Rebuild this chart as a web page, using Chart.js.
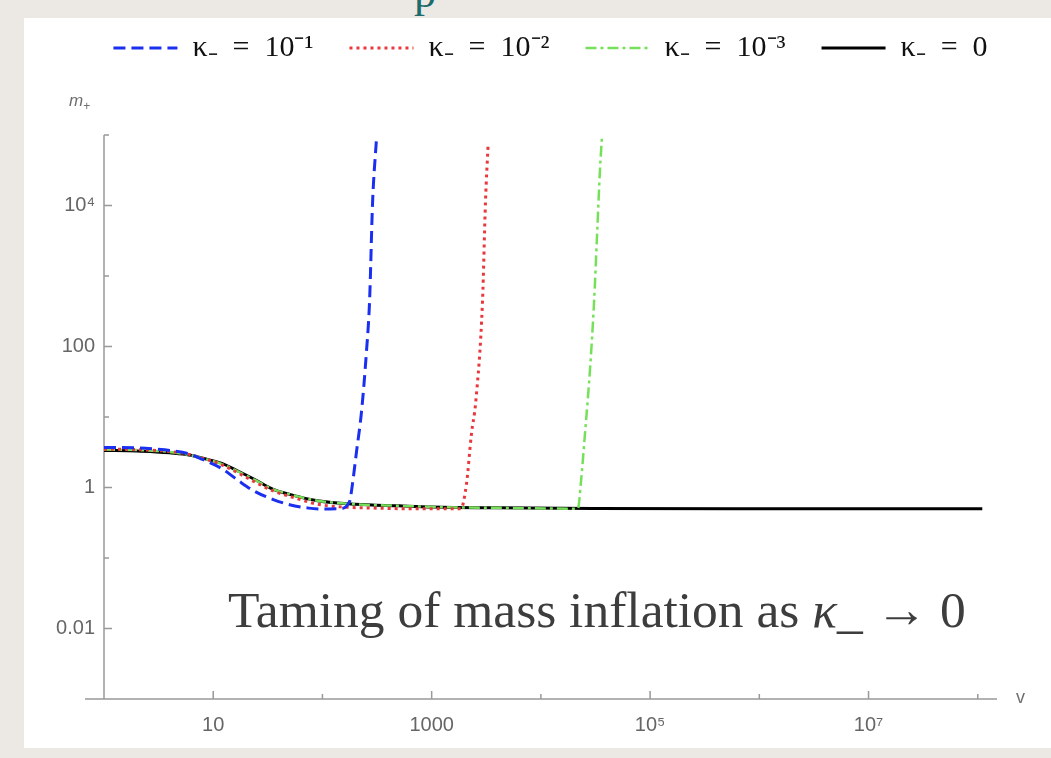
<!DOCTYPE html>
<html>
<head>
<meta charset="utf-8">
<script src="https://cdn.jsdelivr.net/npm/chart.js@4.4.0/dist/chart.umd.min.js"></script>
<style>
    html, body { margin: 0; padding: 0; }
    body {
        width: 1051px; height: 758px; position: relative; overflow: hidden;
        background: #ece9e4;
        font-family: "Liberation Sans", Arial, sans-serif;
    }
    /* bit of the slide title that peeks in above the white panel */
    #slide-title { position: absolute; left: 414px; top: -33px; font: 44px "Liberation Serif", serif; color: #1d6b6b; }
    #panel { position: absolute; left: 24px; top: 18px; width: 1027px; height: 730px; background: #fff; }
    #wrap { position: absolute; left: 0; top: 0; width: 1051px; height: 758px; }
    .axis-title { position: absolute; color: #6f6f6f; }
    #y-title { left: 69px; top: 91px; font: italic 17px "Liberation Sans", sans-serif; }
    #y-title sub { font-style: normal; font-size: 12px; }
    #x-title { left: 1016px; top: 687px; font: 18px "Liberation Sans", sans-serif; }
    #note {
        position: absolute; left: 228px; top: 580px; line-height: 1;
        font: 51.5px "Liberation Serif", serif; color: #3d3d3d; white-space: nowrap;
    }
</style>
</head>
<body>
<div id="slide-title">p</div>
<div id="panel"></div>
<div id="wrap"><canvas id="chart"></canvas></div>
<div id="y-title" class="axis-title">m<sub>+</sub></div>
<div id="x-title" class="axis-title">v</div>
<div id="note">Taming of mass inflation as <i>κ</i>_ → 0</div>

<script>
// m+ against v for each kappa_-
const vKappa1 = [1, 2, 3, 4, 6, 8, 12, 17, 24, 35, 50, 75, 100, 143, 177, 188, 205, 228, 253, 270, 288, 313];
const mKappa1 = [3.7, 3.65, 3.5, 3.35, 3.0, 2.5, 1.85, 1.25, 0.88, 0.68, 0.57, 0.51, 0.495, 0.5, 0.63, 1.1, 3.2, 12, 85, 435, 11400, 92000];

const vKappa2 = [1, 2, 3, 4, 6, 8, 12, 17, 24, 35, 50, 90, 150, 300, 600, 1845, 2080, 2310, 2535, 2920, 3110, 3290];
const mKappa2 = [3.5, 3.45, 3.35, 3.25, 2.95, 2.6, 2.1, 1.6, 1.2, 0.9, 0.75, 0.58, 0.53, 0.51, 0.5, 0.5, 1.1, 5.65, 16.6, 435, 11400, 75700];

const vKappa3 = [1, 2, 3, 4, 6, 8, 12, 17, 24, 35, 50, 90, 200, 500, 1000, 4000, 21800, 23300, 25300, 28200, 30700, 32700, 34800, 36300];
const mKappa3 = [3.45, 3.4, 3.3, 3.2, 2.9, 2.6, 2.15, 1.68, 1.28, 0.95, 0.8, 0.65, 0.58, 0.55, 0.53, 0.515, 0.5, 1.22, 5.65, 48.7, 435, 3880, 33500, 98000];

const vKappa0 = [1, 2, 3, 4, 6, 8, 12, 17, 24, 35, 50, 90, 200, 500, 1000, 4000, 30000, 1e6, 1.1e8];
const mKappa0 = [3.35, 3.3, 3.2, 3.1, 2.9, 2.6, 2.2, 1.7, 1.3, 0.95, 0.8, 0.65, 0.58, 0.55, 0.53, 0.515, 0.505, 0.5, 0.5];

const seriesLabels = ['κ₋  =  10⁻¹', 'κ₋  =  10⁻²', 'κ₋  =  10⁻³', 'κ₋  =  0'];

// one tick per decade, only every other one labelled (Mathematica style)
const xTickValues = [1, 10, 100, 1e3, 1e4, 1e5, 1e6, 1e7, 1e8];
const xTickLabels = ['', '10', '', '1000', '', '10⁵', '', '10⁷', ''];
const yTickValues = [1e-3, 1e-2, 0.1, 1, 10, 100, 1e3, 1e4, 1e5];
const yTickLabels = ['', '0.01', '', '1', '', '100', '', '10⁴', ''];

const legendGap = 62;   // extra room under the legend row
const legendShift = 30; // legend sits a bit right of centre

function zip(vs, ms) {
    return vs.map((v, i) => ({ x: v, y: ms[i] }));
}

function lineSet(label, vs, ms, color, width, dash) {
    return {
        label,
        data: zip(vs, ms),
        borderColor: color,
        backgroundColor: color,
        borderWidth: width,
        borderDash: dash,
        pointRadius: 0,
        cubicInterpolationMode: 'monotone',
        fill: false,
    };
}

// axes drawn by hand: x axis pokes out left of the y axis, ticks point inwards
const mmaAxes = {
    id: 'mmaAxes',
    afterInit(chart) {
        const legend = chart.legend;
        const baseFit = legend.fit.bind(legend);
        legend.fit = function () { baseFit(); this.height += legendGap; };
    },
    afterLayout(chart) {
        chart.legend.left += legendShift;
        chart.legend.right += legendShift;
    },
    beforeDatasetsDraw(chart) {
        const { ctx, chartArea: { left, right, top, bottom }, scales: { x, y } } = chart;
        ctx.save();
        ctx.strokeStyle = '#999';
        ctx.lineWidth = 1.5;
        ctx.beginPath();
        ctx.moveTo(left - 19, bottom);
        ctx.lineTo(right, bottom);
        ctx.moveTo(left, top);
        ctx.lineTo(left, bottom);
        x.ticks.forEach((t, i) => {
            const px = x.getPixelForValue(t.value);
            const len = xTickLabels[i] ? 8 : 5;
            ctx.moveTo(px, bottom);
            ctx.lineTo(px, bottom - len);
        });
        y.ticks.forEach((t, i) => {
            const py = y.getPixelForValue(t.value);
            const len = yTickLabels[i] ? 8 : 5;
            ctx.moveTo(left, py);
            ctx.lineTo(left + len, py);
        });
        ctx.stroke();
        ctx.restore();
    },
};

const tickFont = { family: '"Liberation Sans", Arial, sans-serif', size: 20 };

new Chart(document.getElementById('chart'), {
    type: 'line',
    data: {
        datasets: [
            lineSet(seriesLabels[0], vKappa1, mKappa1, '#1a2ff0', 3, [12, 6]),
            lineSet(seriesLabels[1], vKappa2, mKappa2, '#e8383d', 3, [3, 4]),
            lineSet(seriesLabels[2], vKappa3, mKappa3, '#76e05a', 2.5, [11, 4, 3, 4]),
            lineSet(seriesLabels[3], vKappa0, mKappa0, '#000000', 3, []),
        ],
    },
    options: {
        responsive: true,
        maintainAspectRatio: false,
        animation: false,
        parsing: false,
        events: [],
        layout: { padding: { left: 44, right: 54, top: -3, bottom: 19 } },
        scales: {
            x: {
                type: 'logarithmic',
                min: 1,
                max: 1.5e8,
                afterBuildTicks: (scale) => { scale.ticks = xTickValues.map((value) => ({ value })); },
                afterFit: (scale) => { scale.height = 40; },
                grid: { display: false, drawTicks: false },
                border: { display: false },
                ticks: {
                    autoSkip: false, maxRotation: 0, padding: 14,
                    color: '#666', font: tickFont,
                    callback: (value, i) => xTickLabels[i],
                },
            },
            y: {
                type: 'logarithmic',
                min: 1e-3,
                max: 1e5,
                afterBuildTicks: (scale) => { scale.ticks = yTickValues.map((value) => ({ value })); },
                afterFit: (scale) => { scale.width = 60; },
                grid: { display: false, drawTicks: false },
                border: { display: false },
                ticks: {
                    autoSkip: false, padding: 9,
                    color: '#666', font: tickFont,
                    callback: (value, i) => yTickLabels[i],
                },
            },
        },
        plugins: {
            legend: {
                display: true,
                position: 'top',
                labels: {
                    usePointStyle: true,
                    pointStyle: 'line',
                    pointStyleWidth: 64,
                    padding: 36,
                    color: '#111',
                    font: { family: '"Liberation Serif", "Times New Roman", serif', size: 30 },
                    // point-style legend items lose the dataset dash, put it back
                    generateLabels: (chart) => Chart.defaults.plugins.legend.labels.generateLabels(chart)
                        .map((item) => ({ ...item, lineDash: chart.data.datasets[item.datasetIndex].borderDash })),
                },
            },
            tooltip: { enabled: false },
        },
    },
    plugins: [mmaAxes],
});
</script>
</body>
</html>
